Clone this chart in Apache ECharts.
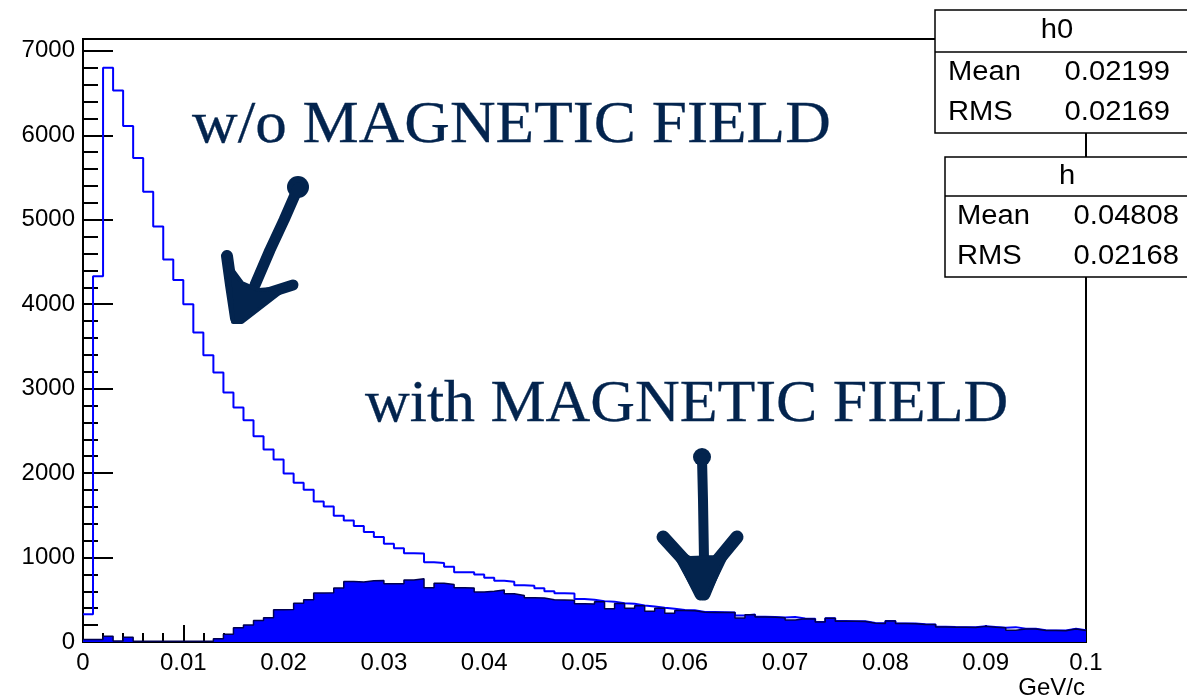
<!DOCTYPE html>
<html>
<head>
<meta charset="utf-8">
<script src="https://cdn.jsdelivr.net/npm/echarts@6/dist/echarts.min.js"></script>
<style>
html, body { margin: 0; padding: 0; background: #fff; }
#chart { width: 1187px; height: 699px; }
</style>
</head>
<body>
<div id="chart"></div>
<script>
// Momentum spectra, 100 bins of 0.001 GeV/c from 0 to 0.1
const binWidth = 0.001;
const xRange = [0, 0.1];
const yMax = 7140;

// h0: without magnetic field (outline histogram)
const h0Counts = [
  330, 4330, 6800, 6530, 6110, 5730, 5330, 4920, 4530, 4285,
  4000, 3665, 3396, 3191, 2954, 2776, 2626, 2436, 2278, 2160,
  1995, 1885, 1804, 1665, 1605, 1495, 1440, 1375, 1302, 1243,
  1164, 1110, 1050, 1048, 945, 935, 890, 827, 825, 800,
  761, 725, 712, 672, 666, 636, 602, 578, 575, 508,
  500, 484, 478, 460, 452, 433, 421, 405, 393, 378,
  375, 356, 354, 352, 350, 314, 326, 300, 296, 290,
  296, 277, 275, 238, 280, 248, 247, 245, 224, 222,
  250, 220, 218, 210, 208, 180, 177, 176, 175, 186,
  178, 170, 176, 157, 156, 138, 137, 136, 156, 138
];

// h: with magnetic field (filled histogram)
const hCounts = [
  30, 30, 69, 12, 57, 10, 10, 10, 10, 10,
  10, 10, 10, 38, 93, 170, 200, 255, 287, 382,
  385, 458, 500, 580, 582, 640, 717, 710, 725, 728,
  690, 690, 733, 749, 642, 697, 682, 642, 640, 592,
  600, 615, 571, 551, 525, 520, 500, 498, 495, 453,
  450, 478, 393, 455, 401, 430, 365, 400, 341, 372,
  370, 352, 350, 349, 348, 285, 322, 296, 294, 288,
  260, 274, 272, 236, 282, 246, 245, 243, 222, 220,
  248, 218, 216, 208, 206, 178, 175, 174, 173, 185,
  176, 168, 140, 155, 154, 136, 135, 134, 154, 136
];

// axis ticks
const yMajorTicks = [0, 1000, 2000, 3000, 4000, 5000, 6000, 7000];
const yMinorTicks = [];
for (let v = 200; v < yMax; v += 200) if (v % 1000 !== 0) yMinorTicks.push(v);
const xTickStep = 0.01;
const xAxisTitle = 'GeV/c';

// statistics boxes: [name, mean, rms]
const statsH0 = ['h0', '0.02199', '0.02169'];
const statsH = ['h', '0.04808', '0.02168'];

// annotations
const labelNoField = 'w/o MAGNETIC FIELD';
const labelField = 'with MAGNETIC FIELD';

function toStepData(counts) {
  const pts = counts.map((v, i) => [i * binWidth, v]);
  pts.push([counts.length * binWidth, counts[counts.length - 1]]);
  return pts;
}

const navy = '#03244e';
const sansFont = '"Liberation Sans", Arial, Helvetica, sans-serif';
const serifFont = '"Liberation Serif", "Times New Roman", serif';

function statsBox(stats, x, y, w, titleH, rowH, labelX, valueRight) {
  const [name, mean, rms] = stats;
  const textEl = (t, tx, ty, align) => ({
    type: 'text',
    x: tx, y: ty,
    scaleX: 1.08,
    style: { text: t, fill: '#000', font: '27px ' + sansFont, align: align, verticalAlign: 'middle' }
  });
  const h = titleH + rowH * 2;
  return [
    { type: 'rect', shape: { x: x, y: y, width: w, height: h },
      style: { fill: '#fff', stroke: '#000', lineWidth: 1.5 } },
    { type: 'line', shape: { x1: x, y1: y + titleH, x2: x + w, y2: y + titleH },
      style: { stroke: '#000', lineWidth: 1.5 } },
    textEl(name, x + 122, y + titleH / 2, 'center'),
    textEl('Mean', labelX, y + titleH + rowH * 0.5, 'left'),
    textEl(mean, valueRight, y + titleH + rowH * 0.5, 'right'),
    textEl('RMS', labelX, y + titleH + rowH * 1.5, 'left'),
    textEl(rms, valueRight, y + titleH + rowH * 1.5, 'right')
  ];
}

const strokeStyle = (w) => ({ stroke: navy, lineWidth: w, lineCap: 'round', lineJoin: 'round', fill: null });
const solidStyle = { fill: navy, stroke: navy, lineWidth: 4, lineJoin: 'round' };

const chart = echarts.init(document.getElementById('chart'), null, { renderer: 'canvas' });

chart.setOption({
  animation: false,
  backgroundColor: '#fff',
  grid: {
    left: 83, top: 39, width: 1003, height: 603,
    show: true, borderColor: '#000', borderWidth: 2, backgroundColor: 'transparent'
  },
  xAxis: {
    type: 'value',
    min: xRange[0], max: xRange[1], interval: xTickStep,
    axisLine: { show: true, onZero: false, lineStyle: { color: '#000', width: 2 } },
    axisTick: { show: true, inside: true, length: 17, lineStyle: { color: '#000', width: 2 } },
    minorTick: { show: true, splitNumber: 5, length: 9, lineStyle: { color: '#000', width: 2 } },
    splitLine: { show: false },
    axisLabel: {
      margin: 9, color: '#000', fontSize: 24, fontFamily: sansFont,
      formatter: v => String(+v.toFixed(2))
    }
  },
  yAxis: [
    {
      type: 'value', min: 0, max: yMax,
      axisLine: { show: true, onZero: false, lineStyle: { color: '#000', width: 2 } },
      axisTick: { show: true, inside: true, length: 30, customValues: yMajorTicks,
                  lineStyle: { color: '#000', width: 2 } },
      splitLine: { show: false },
      axisLabel: { margin: 8, color: '#000', fontSize: 24, fontFamily: sansFont,
                   customValues: yMajorTicks, formatter: v => String(Math.round(v)) }
    },
    {
      type: 'value', min: 0, max: yMax, position: 'left',
      axisLine: { show: false },
      axisTick: { show: true, inside: true, length: 15, customValues: yMinorTicks,
                  lineStyle: { color: '#000', width: 2 } },
      splitLine: { show: false },
      axisLabel: { show: false }
    }
  ],
  series: [
    {
      name: 'h0', type: 'line', step: 'end', yAxisIndex: 0,
      data: toStepData(h0Counts),
      showSymbol: false, symbol: 'none',
      lineStyle: { color: '#0000ff', width: 2 },
      z: 2
    },
    {
      name: 'h', type: 'line', step: 'end', yAxisIndex: 0,
      data: toStepData(hCounts),
      showSymbol: false, symbol: 'none',
      lineStyle: { color: '#000050', width: 1.5 },
      areaStyle: { color: '#0000ff', opacity: 1, origin: 'start' },
      z: 3
    }
  ],
  graphic: [
    // statistics panels
    ...statsBox(statsH0, 935, 10, 270, 42, 40.5, 948, 1170),
    ...statsBox(statsH, 945, 157, 260, 39, 40.5, 957, 1179),
    // axis title
    { type: 'text', x: 1085, y: 688,
      style: { text: xAxisTitle, fill: '#000', font: '24px ' + sansFont, align: 'right', verticalAlign: 'middle' } },
    // annotation labels
    { type: 'text', x: 192, y: 126, scaleX: 1.053,
      style: { text: labelNoField, fill: navy, stroke: navy, lineWidth: 0.3,
               font: '60px ' + serifFont, align: 'left', verticalAlign: 'middle' } },
    { type: 'text', x: 365, y: 405, scaleX: 1.032,
      style: { text: labelField, fill: navy, stroke: navy, lineWidth: 0.3,
               font: '60px ' + serifFont, align: 'left', verticalAlign: 'middle' } },
    // hand-drawn arrow pointing at the h0 peak
    { type: 'circle', shape: { cx: 298, cy: 187, r: 11 }, style: { fill: navy } },
    { type: 'polyline', shape: { points: [[298, 188], [284, 220], [270, 250], [255, 285]] },
      style: strokeStyle(11) },
    { type: 'polyline', shape: { points: [[227, 256], [231, 285], [236, 318]] }, style: strokeStyle(12) },
    { type: 'polyline', shape: { points: [[293, 285], [268, 293], [243, 314]] }, style: strokeStyle(11) },
    { type: 'polygon', shape: { points: [[228, 264], [242, 283], [258, 290], [286, 288], [242, 322], [233, 322]] },
      style: solidStyle },
    // hand-drawn arrow pointing at the h distribution
    { type: 'circle', shape: { cx: 702, cy: 457, r: 9 }, style: { fill: navy } },
    { type: 'polyline', shape: { points: [[702, 458], [703, 500], [704, 560]] }, style: strokeStyle(10) },
    { type: 'polyline', shape: { points: [[663, 537], [684, 560], [701, 594]] }, style: strokeStyle(13) },
    { type: 'polyline', shape: { points: [[737, 537], [718, 560], [704, 594]] }, style: strokeStyle(13) },
    { type: 'polygon', shape: { points: [[672, 549], [690, 558], [716, 557], [731, 546], [706, 598], [699, 598]] },
      style: solidStyle }
  ]
});
</script>
</body>
</html>
